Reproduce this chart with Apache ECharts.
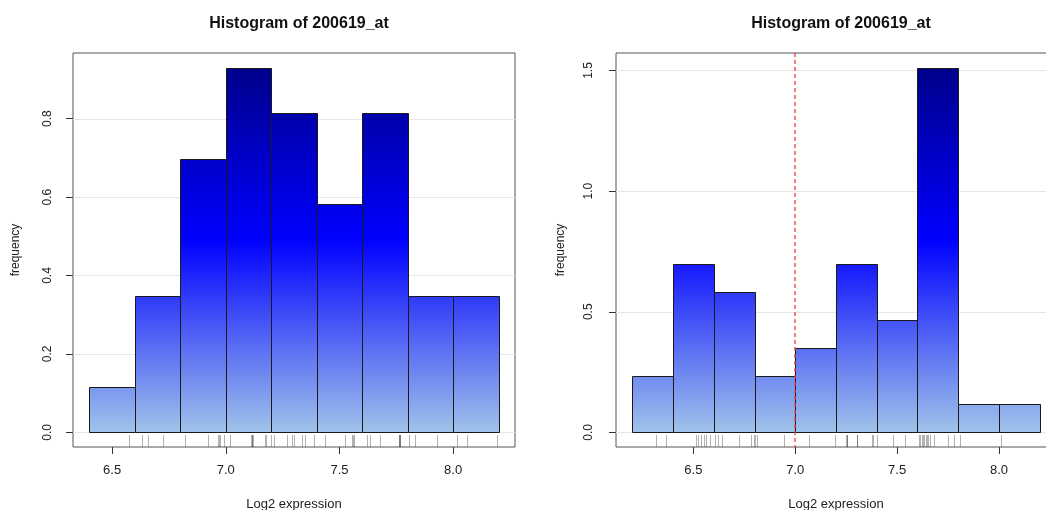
<!DOCTYPE html>
<html>
<head>
<meta charset="utf-8">
<title>Histogram of 200619_at</title>
<script src="https://cdn.jsdelivr.net/npm/echarts@6/dist/echarts.min.js"></script>
<style>
    html, body { margin: 0; padding: 0; background: #fff; }
    #main { width: 1046px; height: 510px; }
</style>
</head>
<body>
<div id="main"></div>
<script>
// 左图数据
var leftBreaks = [6.4, 6.6, 6.8, 7.0, 7.2, 7.4, 7.6, 7.8, 8.0, 8.2];
var leftDensity = [0.116, 0.349, 0.698, 0.930, 0.814, 0.581, 0.814, 0.349, 0.349];
var leftRug = [6.576, 6.631, 6.660, 6.726, 6.821, 6.921, 6.965, 6.972, 6.975, 6.990,
    7.019, 7.112, 7.115, 7.117, 7.119, 7.173, 7.178, 7.198, 7.210, 7.269,
    7.291, 7.298, 7.335, 7.349, 7.386, 7.437, 7.525, 7.555, 7.560, 7.562,
    7.621, 7.635, 7.679, 7.760, 7.762, 7.765, 7.767, 7.804, 7.833, 7.929,
    8.017, 8.061, 8.193];
var leftYTicks = [0, 0.2, 0.4, 0.6, 0.8];

// 右图数据
var rightBreaks = [6.2, 6.4, 6.6, 6.8, 7.0, 7.2, 7.4, 7.6, 7.8, 8.0, 8.2];
var rightDensity = [0.233, 0.698, 0.581, 0.233, 0.349, 0.698, 0.465, 1.512, 0.116, 0.116];
var rightRug = [6.317, 6.366, 6.515, 6.523, 6.539, 6.550, 6.564, 6.583, 6.608, 6.621,
    6.641, 6.722, 6.784, 6.796, 6.804, 6.812, 6.943, 7.065, 7.196, 7.250,
    7.256, 7.256, 7.302, 7.302, 7.376, 7.384, 7.400, 7.482, 7.539, 7.609,
    7.612, 7.621, 7.627, 7.634, 7.641, 7.646, 7.652, 7.662, 7.683, 7.749,
    7.779, 7.809, 8.008];
var rightYTicks = [0, 0.5, 1.0, 1.5];
var cutoff = 7.0;

var xTicks = [6.5, 7.0, 7.5, 8.0];
var titleText = 'Histogram of 200619_at';

// 颜色渐变 (按最大值比例)
var ramp = [[0, [160, 196, 234]], [0.53, [0, 0, 255]], [1, [0, 0, 139]]];

function rampColor(g) {
    for (var i = 1; i < ramp.length; i++) {
        if (g <= ramp[i][0]) {
            var a = ramp[i - 1], b = ramp[i];
            var t = (g - a[0]) / (b[0] - a[0]);
            var c = [0, 1, 2].map(function (k) {
                return Math.round(a[1][k] + (b[1][k] - a[1][k]) * t);
            });
            return 'rgb(' + c.join(',') + ')';
        }
    }
    return 'rgb(' + ramp[ramp.length - 1][1].join(',') + ')';
}

function barFill(v, vmax) {
    var f = v / vmax;
    var stops = [{ offset: 0, color: rampColor(f) }];
    ramp.forEach(function (s) {
        if (s[0] > 0 && s[0] < f) {
            stops.push({ offset: 1 - s[0] / f, color: rampColor(s[0]) });
        }
    });
    stops.push({ offset: 1, color: rampColor(0) });
    stops.sort(function (a, b) { return a.offset - b.offset; });
    return new echarts.graphic.LinearGradient(0, 0, 0, 1, stops);
}

function histData(breaks, dens) {
    var out = [];
    for (var i = 0; i < dens.length; i++) {
        out.push([breaks[i], breaks[i + 1], dens[i]]);
    }
    return out;
}

function padRange(lo, hi) {
    var d = (hi - lo) * 0.04;
    return [lo - d, hi + d];
}

// 对齐像素，线条更清晰
function crisp(x) {
    return Math.round(x) + 0.5;
}

var fmt1 = function (v) { return v.toFixed(1); };
var font = 'Liberation Sans';

function buildPanel(idx, breaks, dens, rug, yTicks, cut) {
    var xr = padRange(breaks[0], breaks[breaks.length - 1]);
    var vmax = Math.max.apply(null, dens);
    var yr = padRange(0, vmax);

    var xAxis = {
        gridIndex: idx, type: 'value', min: xr[0], max: xr[1],
        axisLine: { show: false, onZero: false },
        axisTick: { customValues: xTicks, length: 7, lineStyle: { color: '#333' } },
        axisLabel: { customValues: xTicks, formatter: fmt1, margin: 17, fontSize: 13, color: '#222', fontFamily: font },
        splitLine: { show: false },
        name: 'Log2 expression', nameLocation: 'middle', nameGap: 51,
        nameTextStyle: { fontSize: 13, color: '#222', fontFamily: font }
    };
    var yAxis = {
        gridIndex: idx, type: 'value', min: yr[0], max: yr[1],
        axisLine: { show: false, onZero: false },
        axisTick: { customValues: yTicks, length: 7, lineStyle: { color: '#333' } },
        axisLabel: { customValues: yTicks, formatter: fmt1, rotate: 90, margin: 19, fontSize: 12, color: '#222', fontFamily: font },
        splitLine: { show: false },
        name: 'frequency', nameLocation: 'middle', nameGap: 51,
        nameTextStyle: { fontSize: 12, color: '#222', fontFamily: font }
    };

    // 网格线
    var gridLines = {
        type: 'custom', xAxisIndex: idx, yAxisIndex: idx, z: 1, silent: true,
        data: yTicks.map(function (t) { return [xr[0], t]; }),
        renderItem: function (params, api) {
            var cs = params.coordSys;
            var y = crisp(api.coord([xr[0], api.value(1)])[1]);
            return {
                type: 'line',
                shape: { x1: cs.x, y1: y, x2: cs.x + cs.width, y2: y },
                style: { stroke: '#e6e6e6', lineWidth: 1 }
            };
        }
    };

    // 直方图
    var hist = {
        type: 'custom', xAxisIndex: idx, yAxisIndex: idx, z: 2, silent: true,
        data: histData(breaks, dens),
        encode: { x: [0, 1], y: 2 },
        renderItem: function (params, api) {
            var p0 = api.coord([api.value(0), api.value(2)]);
            var p1 = api.coord([api.value(1), 0]);
            var x0 = crisp(p0[0]), x1 = crisp(p1[0]);
            var y0 = crisp(p0[1]), y1 = crisp(p1[1]);
            return {
                type: 'rect',
                shape: { x: x0, y: y0, width: x1 - x0, height: y1 - y0 },
                style: { fill: barFill(api.value(2), vmax), stroke: '#1a1a1a', lineWidth: 1 }
            };
        }
    };

    // rug
    var rugSeries = {
        type: 'custom', xAxisIndex: idx, yAxisIndex: idx, z: 3, silent: true,
        data: rug.map(function (v) { return [v, yr[0]]; }),
        renderItem: function (params, api) {
            var p = api.coord([api.value(0), yr[0]]);
            var x = crisp(p[0]);
            return {
                type: 'line',
                shape: { x1: x, y1: p[1], x2: x, y2: p[1] - 12 },
                style: { stroke: 'rgba(0,0,0,0.3)', lineWidth: 1 }
            };
        }
    };

    var series = [gridLines, hist, rugSeries];

    // 阈值虚线
    if (cut != null) {
        series.push({
            type: 'custom', xAxisIndex: idx, yAxisIndex: idx, z: 4, silent: true,
            data: [[cut, yr[0]]],
            renderItem: function (params, api) {
                var cs = params.coordSys;
                var x = Math.round(api.coord([api.value(0), yr[0]])[0]);
                return {
                    type: 'line',
                    shape: { x1: x, y1: cs.y, x2: x, y2: cs.y + cs.height },
                    style: { stroke: '#f03c3c', lineWidth: 1.3, lineDash: [4, 3] }
                };
            }
        });
    }

    return { xAxis: xAxis, yAxis: yAxis, series: series };
}

var chart = echarts.init(document.getElementById('main'));
var left = buildPanel(0, leftBreaks, leftDensity, leftRug, leftYTicks, null);
var right = buildPanel(1, rightBreaks, rightDensity, rightRug, rightYTicks, cutoff);
right.yAxis.nameGap = 49;
right.yAxis.axisLabel.margin = 21;

var titleStyle = { fontSize: 16, fontWeight: 'bold', color: '#111', fontFamily: font };

var option = {
    backgroundColor: '#fff',
    animation: false,
    title: [
        { text: titleText, left: 294, top: 11, textAlign: 'center', textStyle: titleStyle },
        { text: titleText, left: 836, top: 11, textAlign: 'center', textStyle: titleStyle }
    ],
    grid: [
        { left: 73, top: 53, width: 442, height: 394, outerBoundsMode: 'none', containLabel: false,
          show: true, borderColor: '#555', borderWidth: 1, backgroundColor: 'transparent' },
        { left: 616, top: 53, width: 440, height: 394, outerBoundsMode: 'none', containLabel: false,
          show: true, borderColor: '#555', borderWidth: 1, backgroundColor: 'transparent' }
    ],
    xAxis: [left.xAxis, right.xAxis],
    yAxis: [left.yAxis, right.yAxis],
    series: left.series.concat(right.series)
};
chart.setOption(option);
</script>
</body>
</html>
